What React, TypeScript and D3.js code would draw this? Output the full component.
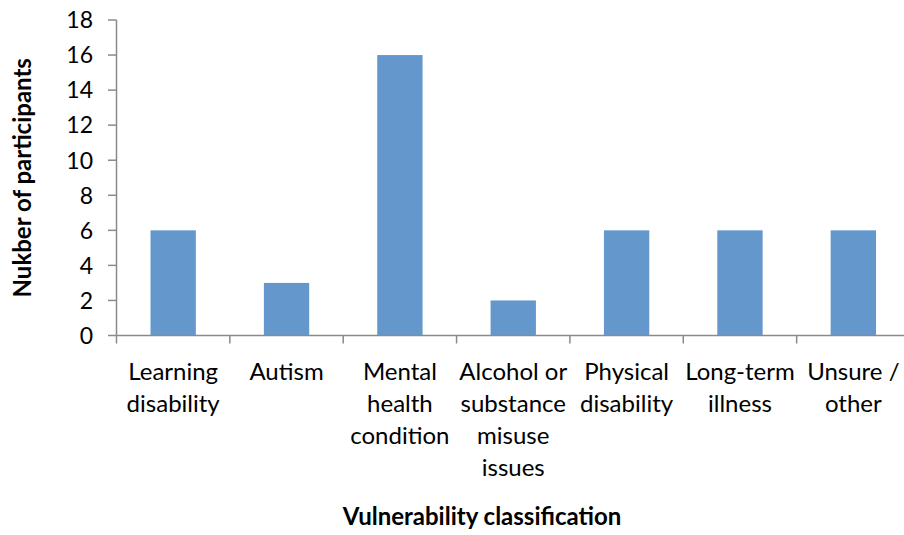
import React from "react";
import * as d3 from "d3";

const categories: string[][] = [
  ["Learning", "disability"],
  ["Autism"],
  ["Mental", "health", "condition"],
  ["Alcohol or", "substance", "misuse", "issues"],
  ["Physical", "disability"],
  ["Long-term", "illness"],
  ["Unsure /", "other"],
];
const values: number[] = [6, 3, 16, 2, 6, 6, 6];
const yTicks: number[] = [0, 2, 4, 6, 8, 10, 12, 14, 16, 18];
const yTitle = "Nukber of participants";
const xTitle = "Vulnerability classification";

const W = 904;
const H = 535;
const FONT = "Lato, 'Open Sans', sans-serif";

export default function App() {
  const keys = categories.map((c) => c.join(" "));
  const x = d3.scaleBand<string>().domain(keys).range([116.5, 910]).padding(0);
  const y = d3.scaleLinear().domain([0, 18]).range([335.5, 20]);
  const bw = x.bandwidth();
  const barW = bw * 0.4;
  const axisColor = "#8a8a8a";

  return (
    <svg width={W} height={H} style={{ position: "absolute", left: 0, top: 0, background: "#fff" }}>
      {/* bars */}
      {values.map((v, i) => {
        const cx = (x(keys[i]) as number) + bw / 2;
        return (
          <rect
            key={i}
            x={cx - barW / 2}
            y={y(v)}
            width={barW}
            height={y(0) - y(v)}
            fill="#6498cc"
          />
        );
      })}
      {/* y axis */}
      <line x1={116.5} x2={116.5} y1={y(18)} y2={y(0)} stroke={axisColor} strokeWidth={1.5} />
      {yTicks.map((t) => (
        <g key={t}>
          <line x1={108} x2={116.5} y1={y(t)} y2={y(t)} stroke={axisColor} strokeWidth={1.5} />
          <text
            x={93}
            y={y(t)}
            dy="0.36em"
            textAnchor="end"
            fontFamily={FONT}
            fontSize={23}
            fill="#000"
          >
            {t}
          </text>
        </g>
      ))}
      {/* x axis */}
      <line x1={116.5} x2={910} y1={y(0)} y2={y(0)} stroke={axisColor} strokeWidth={1.5} />
      {keys.map((k, i) => (
        <line
          key={"t" + i}
          x1={x(k) as number}
          x2={x(k) as number}
          y1={y(0)}
          y2={y(0) + 8}
          stroke={axisColor}
          strokeWidth={1.5}
        />
      ))}
      <line x1={910} x2={910} y1={y(0)} y2={y(0) + 8} stroke={axisColor} strokeWidth={1.5} />
      {categories.map((lines, i) => {
        const cx = (x(keys[i]) as number) + bw / 2;
        return (
          <text key={"c" + i} textAnchor="middle" fontFamily={FONT} fontSize={24} fill="#000">
            {lines.map((l, j) => (
              <tspan key={j} x={cx} y={380 + j * 32}>
                {l}
              </tspan>
            ))}
          </text>
        );
      })}
      {/* titles */}
      <text
        x={482}
        y={525}
        textAnchor="middle"
        fontFamily={FONT}
        fontSize={24}
        fontWeight="bold"
        fill="#000"
      >
        {xTitle}
      </text>
      <text
        transform={`translate(31, ${(y(0) + y(18)) / 2}) rotate(-90)`}
        textAnchor="middle"
        fontFamily={FONT}
        fontSize={24}
        fontWeight="bold"
        fill="#000"
      >
        {yTitle}
      </text>
    </svg>
  );
}
